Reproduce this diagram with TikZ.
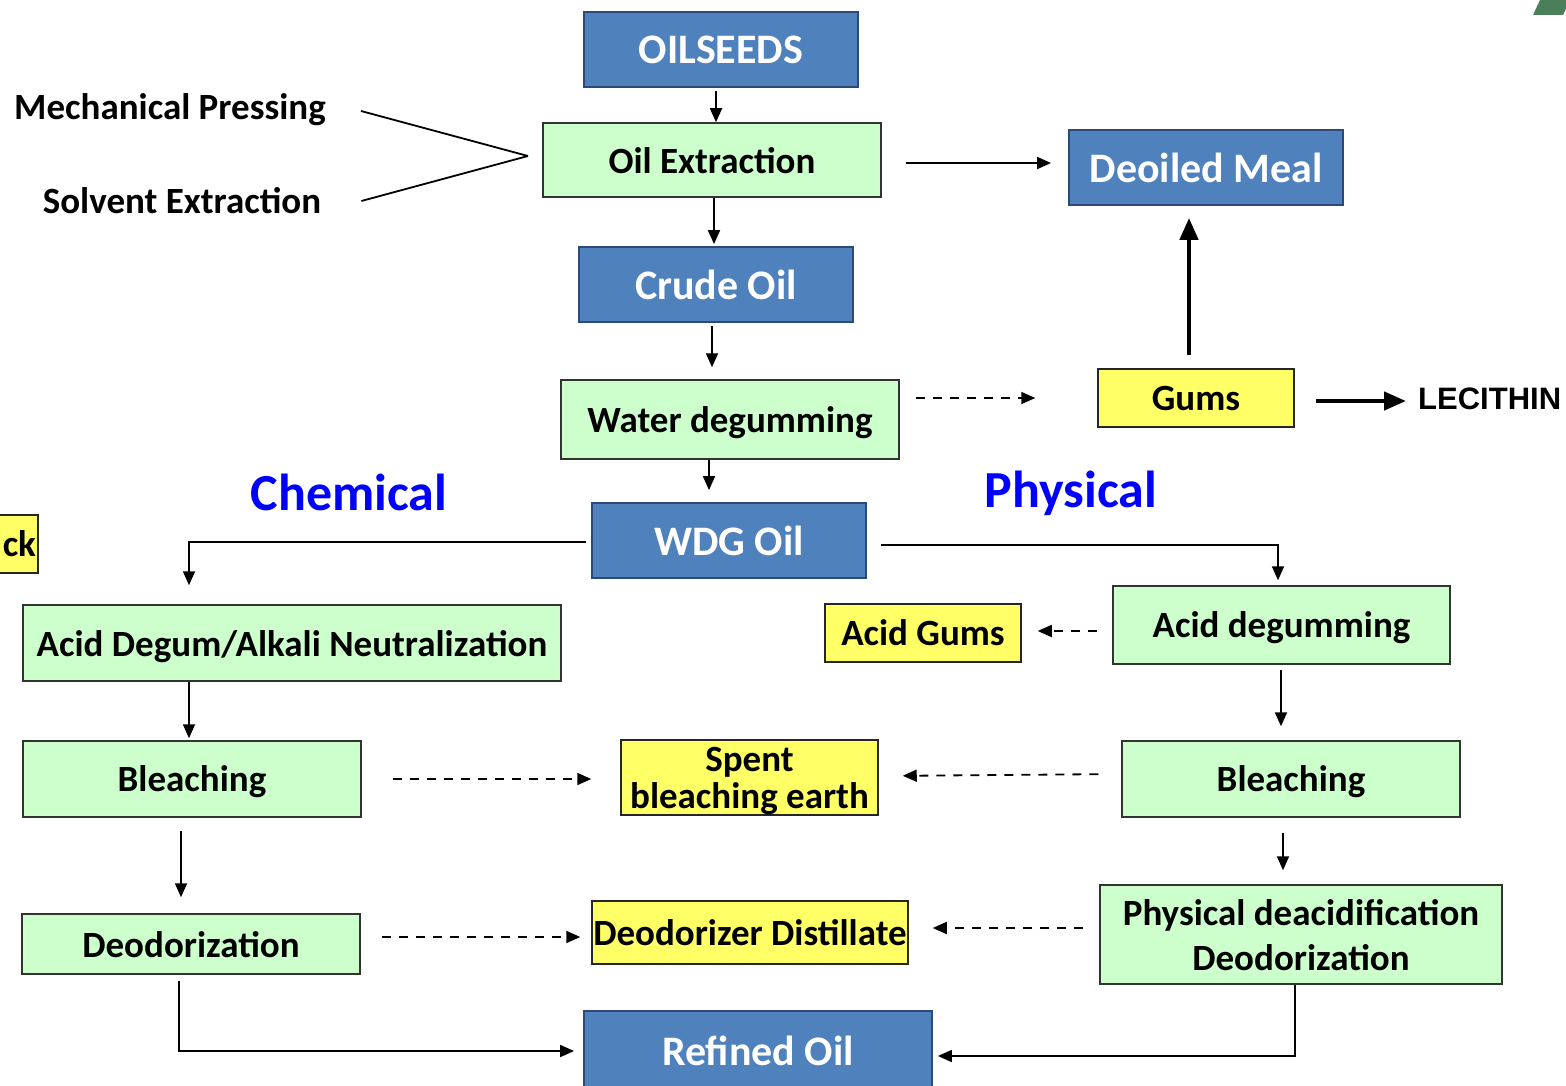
\documentclass[tikz,border=0pt]{standalone}
\usepackage{fontspec}
\setmainfont{Carlito}
\newfontfamily\arialf{Liberation Sans}
\usetikzlibrary{arrows.meta,calc}
\definecolor{boxblue}{HTML}{4F81BD}
\definecolor{boxblueline}{HTML}{2B4A78}
\definecolor{boxgreen}{HTML}{CCFFCC}
\definecolor{boxyellow}{HTML}{FFFF66}
\definecolor{labblue}{HTML}{0000FF}
\definecolor{cornergreen}{HTML}{4B7F5A}
\tikzset{
  base/.style={rectangle, inner sep=0pt, align=center, text depth=0pt},
  bluebox/.style={base, fill=boxblue, draw=boxblueline, line width=1.8pt, text=white,
    font=\bfseries\fontsize{42}{50}\selectfont},
  greenbox/.style={base, fill=boxgreen, draw=black!80, line width=1.5pt, text=black,
    font=\bfseries\fontsize{37}{45}\selectfont},
  yellowbox/.style={base, fill=boxyellow, draw=black!85, line width=1.5pt, text=black,
    font=\bfseries\fontsize{37}{45}\selectfont},
  plainlab/.style={inner sep=0pt, font=\bfseries\fontsize{37}{45}\selectfont},
  sidelab/.style={inner sep=0pt, text=labblue, font=\bfseries\fontsize{52}{60}\selectfont},
  arr/.style={line width=1.8pt, -{Triangle[length=14pt,width=12pt]}},
  darr/.style={arr, dash pattern=on 9pt off 8pt},
  bigarr/.style={line width=4.5pt, -{Triangle[length=22pt,width=18pt]}},
  conn/.style={line width=1.8pt},
}
\begin{document}
\begin{tikzpicture}[x=1pt,y=-1pt]
\useasboundingbox (0,0) rectangle (1566,1086);
% corner decoration
\fill[cornergreen] (1540,0) -- (1570,0) -- (1563,15) -- (1533,15) -- cycle;

% nodes
\node[bluebox, minimum width=274pt, minimum height=75pt] (seeds) at (721,49.5) {OILSEEDS};
\node[greenbox, minimum width=338pt, minimum height=74pt] (oilext) at (712,160) {Oil Extraction};
\node[bluebox, minimum width=274pt, minimum height=75pt] (meal) at (1206,167.5) {Deoiled Meal};
\node[bluebox, minimum width=274pt, minimum height=75pt] (crude) at (716,284.5) {Crude Oil};
\node[greenbox, minimum width=338pt, minimum height=79pt] (water) at (730,419.5) {Water degumming};
\node[yellowbox, minimum width=196pt, minimum height=58pt] (gums) at (1196,398) {Gums};
\node[inner sep=0pt, anchor=west, font=\arialf\bfseries\fontsize{31}{36}\selectfont] (lec) at (1418,399) {LECITHIN};
\node[bluebox, minimum width=274pt, minimum height=75pt] (wdg) at (729,540.5) {WDG Oil};
\node[yellowbox, minimum width=80pt, minimum height=58pt, text width=76pt, align=right] (stock) at (-2,544) {ck};

\node[plainlab] (mech) at (170,110) {Mechanical Pressing};
\node[plainlab] (solv) at (182,201) {Solvent Extraction};
\node[sidelab] (chem) at (349,492) {Chemical};
\node[sidelab] (phys) at (1071,493) {Physical};

\node[greenbox, minimum width=538pt, minimum height=76pt] (adan) at (292,643) {Acid Degum/Alkali Neutralization};
\node[greenbox, minimum width=337pt, minimum height=78pt] (adeg) at (1281.5,625) {Acid degumming};
\node[yellowbox, minimum width=196pt, minimum height=58pt] (agums) at (923,633) {Acid Gums};
\node[greenbox, minimum width=338pt, minimum height=76pt] (bleachL) at (192,779) {Bleaching};
\node[yellowbox, minimum width=257pt, minimum height=75pt, font=\bfseries\fontsize{37}{37}\selectfont] (spent) at (749.5,777.5) {Spent\\bleaching earth};
\node[greenbox, minimum width=338pt, minimum height=76pt] (bleachR) at (1291,779) {Bleaching};
\node[greenbox, minimum width=338pt, minimum height=60pt] (deodL) at (191,944) {Deodorization};
\node[yellowbox, minimum width=316pt, minimum height=63pt] (dist) at (750,932.5) {Deodorizer Distillate};
\node[greenbox, minimum width=402pt, minimum height=99pt] (physd) at (1301,934.5) {Physical deacidification\\Deodorization};
\node[bluebox, minimum width=348pt, minimum height=79pt] (refined) at (758,1050.5) {Refined Oil};

% coordinates
\coordinate (tip) at (528,156);

% connectors
\draw[conn] (mech.east) ++(35,1) -- (tip);
\draw[conn] (solv.east) ++(40,0) -- (tip);

\draw[arr] ([xshift=-5pt]seeds.south) ++(0,3) -- ([xshift=-5pt]seeds.south |- oilext.north);
\draw[arr, shorten <=24pt, shorten >=17pt] ([yshift=-3pt]oilext.east) -- ([yshift=-3pt]oilext.east -| meal.west);
\draw[arr, shorten >=2pt] ([xshift=2pt]oilext.south) -- ([xshift=2pt]oilext.south |- crude.north);
\draw[arr, shorten <=3pt, shorten >=12pt] ([xshift=-4pt]crude.south) -- ([xshift=-4pt]crude.south |- water.north);
\draw[arr, shorten >=12pt] ([xshift=-21pt]water.south) -- ([xshift=-21pt]water.south |- wdg.north);
\draw[darr, shorten <=16pt, shorten >=62pt] (water.east |- gums) -- (gums.west);
\draw[bigarr, shorten <=13pt, shorten >=12pt] ([xshift=-7pt]gums.north) -- ([xshift=-7pt]gums.north |- meal.south);
\draw[bigarr, shorten <=21pt, shorten >=12pt] ([yshift=-3pt]gums.east) -- ([yshift=-3pt]gums.east -| lec.west);

\draw[arr, shorten <=5pt, shorten >=19pt] ([yshift=-1.5pt]wdg.west) -| ([xshift=-103pt]adan.north);
\draw[arr, shorten <=14pt, shorten >=5pt] ([yshift=-4.5pt]wdg.east) -| ([xshift=-3.5pt]adeg.north);
\draw[darr, shorten <=15pt, shorten >=16pt] ([yshift=-6pt]adeg.west) -- ([yshift=-6pt]adeg.west -| agums.east);

\draw[arr, shorten >=2pt] ([xshift=-103pt]adan.south) -- ([xshift=-103pt]adan.south |- bleachL.north);
\draw[arr, shorten <=5pt, shorten >=14pt] ([xshift=-0.5pt]adeg.south) -- ([xshift=-0.5pt]adeg.south |- bleachR.north);
\draw[darr, shorten <=31pt, shorten >=29pt] (bleachL.east) -- (bleachL.east -| spent.west);
\draw[darr, shorten <=23pt, shorten >=24pt] ([yshift=5pt]bleachR.west) -- ([yshift=1.5pt]spent.east);
\draw[arr, shorten <=13pt, shorten >=16pt] ([xshift=-11pt]bleachL.south) -- ([xshift=-11pt]bleachL.south |- deodL.north);
\draw[arr, shorten <=15pt, shorten >=14pt] ([xshift=-8pt]bleachR.south) -- ([xshift=-8pt]bleachR.south |- physd.north);
\draw[darr, shorten <=21pt, shorten >=11pt] ([yshift=7pt]deodL.east) -- ([yshift=7pt]deodL.east -| dist.west);
\draw[darr, shorten <=16pt, shorten >=24pt] ([yshift=6.5pt]physd.west) -- ([yshift=6.5pt]physd.west -| dist.east);

\draw[arr, shorten <=6pt, shorten >=9pt] ([xshift=-12pt]deodL.south) |- ([yshift=-0.5pt]refined.west);
\draw[arr, shorten >=5pt] ([xshift=-6pt]physd.south) |- ([yshift=-5.5pt]refined.east);
\end{tikzpicture}
\end{document}
